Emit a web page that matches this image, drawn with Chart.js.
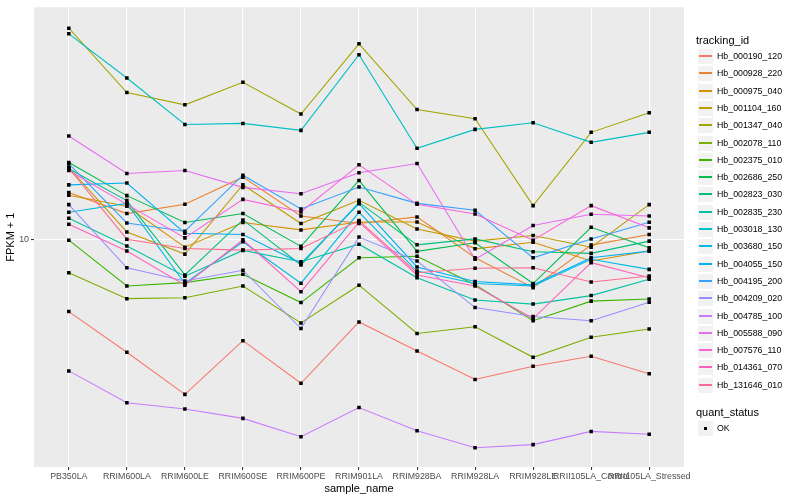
<!DOCTYPE html>
<html>
<head>
<meta charset="utf-8">
<script src="https://cdn.jsdelivr.net/npm/chart.js@4.4.0/dist/chart.umd.min.js"></script>
<style>
  body { margin: 0; background: #fff; font-family: "Liberation Sans", Arial, sans-serif; }
  #wrap { position: relative; width: 800px; height: 500px; }
  #legend div { position: absolute; white-space: nowrap; }
  .ttl { font-size: 11px; color: #000; }
  .key { width: 17px; height: 17px; background: #f2f2f2; box-sizing: border-box; border: 1px solid #fff; }
  .lab { font-size: 8.8px; color: #000; }
</style>
</head>
<body>
<div id="wrap">
  <canvas id="chart" width="800" height="500"></canvas>
  <div id="legend"></div>
</div>
<script>
// sample names along the x axis
const categories = ['PB350LA', 'RRIM600LA', 'RRIM600LE', 'RRIM600SE', 'RRIM600PE', 'RRIM901LA',
  'RRIM928BA', 'RRIM928LA', 'RRIM928LE', 'RRII105LA_Control', 'RRII105LA_Stressed']
const yTicks = [10]

// FPKM + 1 per tracking id
const hb_000190_120 = [5.72, 4.18, 3.02, 4.57, 3.29, 5.28, 4.22, 3.39, 3.75, 4.05, 3.54]
const hb_000928_220 = [14.34, 12.18, 13.08, 16.13, 11.96, 11.28, 11.87, 8.66, 6.88, 9.55, 10.37]
const hb_000975_040 = [14.02, 12.88, 9.40, 11.37, 10.74, 11.42, 11.42, 9.28, 9.77, 8.45, 9.12]
const hb_001104_160 = [17.38, 10.57, 8.91, 15.22, 11.28, 13.49, 10.82, 9.85, 10.29, 9.40, 13.05]
const hb_001347_040 = [50.9, 30.97, 28.18, 33.55, 26.24, 45.12, 27.18, 25.31, 12.95, 22.79, 26.5]
const hb_002078_110 = [7.72, 6.32, 6.36, 6.97, 5.24, 7.01, 4.83, 5.09, 4.02, 4.69, 5.0]
const hb_002375_010 = [9.92, 6.97, 7.15, 7.63, 6.13, 8.66, 8.76, 7.03, 5.33, 6.2, 6.3]
const hb_002686_250 = [18.06, 13.99, 11.37, 12.18, 9.46, 15.73, 9.1, 9.72, 7.1, 10.96, 9.35]
const hb_002823_030 = [17.21, 13.46, 7.59, 11.6, 8.19, 13.28, 9.57, 10.02, 9.07, 8.96, 9.85]
const hb_002835_230 = [11.75, 9.48, 7.51, 9.17, 8.4, 9.62, 7.43, 6.25, 6.06, 6.47, 7.34]
const hb_003018_130 = [48.72, 34.67, 24.23, 24.42, 23.14, 41.47, 20.15, 23.32, 24.55, 21.1, 22.79]
const hb_003680_150 = [12.3, 13.18, 7.1, 9.8, 7.12, 12.3, 7.82, 7.1, 6.97, 8.56, 7.92]
const hb_004055_150 = [15.2, 15.41, 10.47, 10.37, 8.3, 13.15, 8.07, 7.21, 7.03, 8.66, 9.12]
const hb_004195_200 = [17.87, 11.33, 10.63, 16.38, 12.62, 14.94, 13.18, 12.49, 8.66, 10.02, 11.4]
const hb_004209_020 = [13.05, 8.02, 7.24, 7.87, 5.02, 10.16, 8.45, 5.9, 5.51, 5.33, 6.15]
const hb_004785_100 = [3.62, 2.83, 2.7, 2.51, 2.18, 2.73, 2.28, 2.0, 2.05, 2.27, 2.22]
const hb_005588_090 = [22.17, 16.6, 16.98, 14.91, 14.2, 16.68, 17.92, 8.56, 11.11, 12.11, 11.96]
const hb_007576_110 = [16.98, 13.08, 10.1, 13.59, 12.33, 17.74, 13.08, 12.14, 9.92, 12.95, 10.91]
const hb_014361_070 = [11.22, 9.12, 7.01, 9.95, 6.67, 11.4, 7.59, 6.97, 5.42, 8.34, 7.43]
const hb_131646_010 = [17.29, 10.0, 9.31, 9.19, 9.31, 11.54, 7.72, 7.99, 8.02, 7.19, 7.53]

const trackingIds = ['Hb_000190_120', 'Hb_000928_220', 'Hb_000975_040', 'Hb_001104_160', 'Hb_001347_040',
  'Hb_002078_110', 'Hb_002375_010', 'Hb_002686_250', 'Hb_002823_030', 'Hb_002835_230', 'Hb_003018_130',
  'Hb_003680_150', 'Hb_004055_150', 'Hb_004195_200', 'Hb_004209_020', 'Hb_004785_100', 'Hb_005588_090',
  'Hb_007576_110', 'Hb_014361_070', 'Hb_131646_010']
const series = [hb_000190_120, hb_000928_220, hb_000975_040, hb_001104_160, hb_001347_040,
  hb_002078_110, hb_002375_010, hb_002686_250, hb_002823_030, hb_002835_230, hb_003018_130,
  hb_003680_150, hb_004055_150, hb_004195_200, hb_004209_020, hb_004785_100, hb_005588_090,
  hb_007576_110, hb_014361_070, hb_131646_010]

// ggplot default hue palette for 20 groups
const hues = ['#F8766D', '#EA8331', '#D89000', '#C09B00', '#A3A500', '#7CAE00', '#39B600', '#00BB4E',
  '#00BF7D', '#00C1A3', '#00BFC4', '#00BAE0', '#00B0F6', '#35A2FF', '#9590FF', '#C77CFF', '#E76BF3',
  '#FA62DB', '#FF62BC', '#FF6C91']

const font = 'Liberation Sans, Arial, sans-serif'

const panelBg = {
  id: 'panelBg',
  beforeDraw (chart) {
    const { ctx, chartArea: a } = chart
    ctx.save()
    ctx.fillStyle = '#EBEBEB'
    ctx.fillRect(a.left, a.top, a.right - a.left, a.bottom - a.top)
    ctx.restore()
  }
}

let lineSets = series.map((vals, i) => ({
  type: 'line',
  label: trackingIds[i],
  data: vals.map((v, j) => ({ x: j, y: v })),
  borderColor: hues[i],
  borderWidth: 1.07,
  pointRadius: 0,
  fill: false,
  tension: 0,
  order: 20 - i
}))

let pointSet = {
  type: 'scatter',
  label: 'OK',
  data: series.flatMap(vals => vals.map((v, j) => ({ x: j, y: v }))),
  pointStyle: 'rect',
  pointRadius: 2.5,
  backgroundColor: '#000',
  borderWidth: 0,
  showLine: false,
  order: -1
}

let chart = new Chart(document.getElementById('chart').getContext('2d'), {
  type: 'line',
  data: { datasets: [...lineSets, pointSet] },
  plugins: [panelBg],
  options: {
    responsive: false,
    animation: false,
    events: [],
    layout: { padding: { top: 5, right: 116, left: 0, bottom: 0 } },
    plugins: { legend: { display: false }, tooltip: { enabled: false } },
    scales: {
      x: {
        type: 'linear',
        min: -0.6,
        max: 10.6,
        afterBuildTicks: s => { s.ticks = categories.map((c, i) => ({ value: i })) },
        afterFit: s => { s.height = 33 },
        ticks: {
          autoSkip: false,
          maxRotation: 0,
          minRotation: 0,
          color: '#4D4D4D',
          padding: 1,
          font: { size: 8.8, family: font },
          callback: v => categories[v]
        },
        grid: { color: '#fff', lineWidth: 1.07, tickColor: '#333', tickLength: 3 },
        border: { display: false },
        title: { display: true, text: 'sample_name', color: '#000', font: { size: 11, family: font }, padding: { top: 0, bottom: 4 } }
      },
      y: {
        type: 'logarithmic',
        min: 1.725,
        max: 59.8,
        afterBuildTicks: s => { s.ticks = yTicks.map(v => ({ value: v })) },
        afterFit: s => { s.width = 34 },
        ticks: {
          color: '#4D4D4D',
          padding: 2,
          font: { size: 8.8, family: font },
          callback: v => String(v)
        },
        grid: { color: '#fff', lineWidth: 1.07, tickColor: '#333', tickLength: 3 },
        border: { display: false },
        title: { display: true, text: 'FPKM + 1', color: '#000', font: { size: 11, family: font }, padding: { top: 4, bottom: 0 } }
      }
    }
  }
})

// ggplot-style legend on the right
let legend = document.getElementById('legend')
function add (cls, left, top, text) {
  let d = document.createElement('div')
  d.className = cls
  d.style.left = left + 'px'
  d.style.top = top + 'px'
  if (text) d.textContent = text
  legend.appendChild(d)
  return d
}
add('ttl', 696, 34, 'tracking_id')
trackingIds.forEach((id, i) => {
  let top = Math.round(48 + i * 17.3)
  let k = add('key', 697, top)
  let ln = document.createElement('div')
  ln.style.cssText = 'position:absolute;left:1px;width:13px;top:6px;height:2px;background-color:' + hues[i]
  k.appendChild(ln)
  add('lab', 717, top + 3, id)
})
add('ttl', 696, 406, 'quant_status')
let ok = add('key', 697, 420)
let dot = document.createElement('div')
dot.style.cssText = 'position:absolute;left:6px;top:6px;width:3px;height:3px;background:#000'
ok.appendChild(dot)
add('lab', 717, 423, 'OK')
</script>
</body>
</html>
